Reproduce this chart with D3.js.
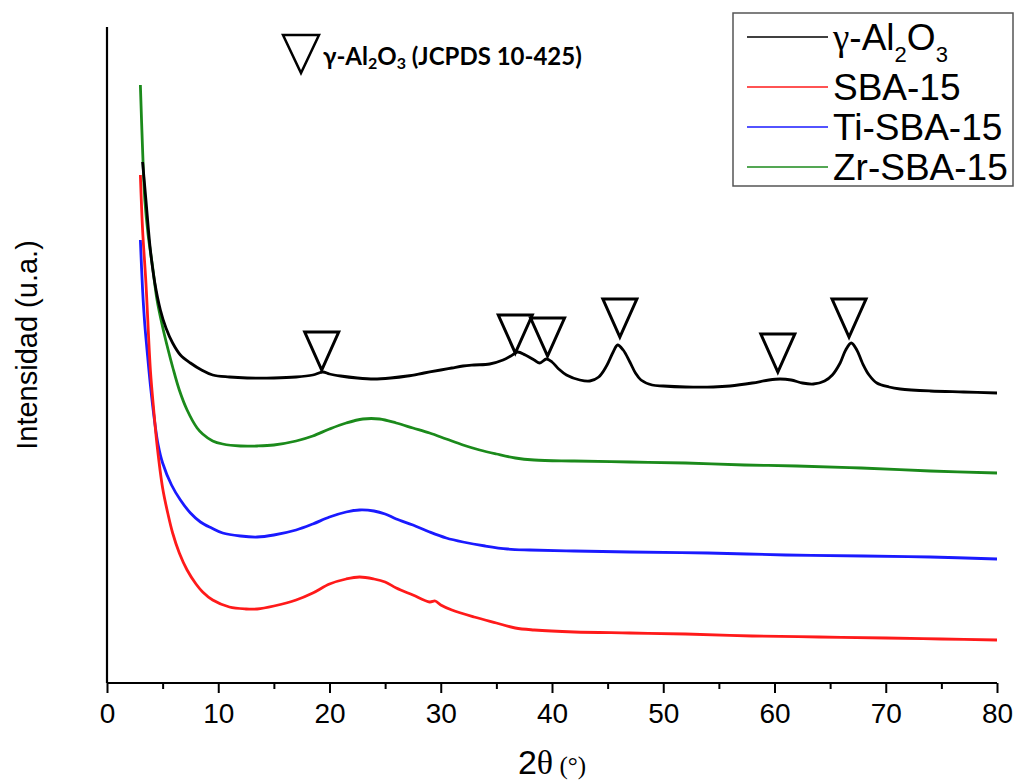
<!DOCTYPE html>
<html>
<head>
<meta charset="utf-8">
<script src="https://cdn.jsdelivr.net/npm/d3@7"></script>
<style>
  body { margin: 0; background: #fff; }
  .tick text { font-family: "Liberation Sans", Arial, sans-serif; }
</style>
</head>
<body>
<div id="chart"></div>
<script>
// XRD patterns, intensity in arbitrary units
const aluminaTheta = [3.2, 3.5, 3.9, 4.3, 4.8, 5.3, 5.9, 6.6, 7.5, 8.5, 9.5, 11, 12.6, 15, 17, 18.5, 19.4, 20, 21, 22.5, 24, 25.5, 27, 28.5, 30, 31, 32, 33, 34.4, 35.6, 36.3, 36.9, 37.6, 38.4, 38.9, 39.5, 40, 40.6, 41.3, 42.5, 43.4, 44.2, 44.9, 45.5, 45.9, 46.4, 47, 47.5, 48, 49, 50, 52, 54.5, 56, 58, 59.5, 60.5, 61.5, 62.5, 63.5, 64.5, 65.2, 65.9, 66.4, 66.9, 67.4, 67.9, 68.5, 69.2, 70.3, 71.3, 74, 77, 80];
const aluminaInt = [521, 483, 433, 400, 373, 355, 340, 328, 320, 313, 308, 306, 305, 305, 306, 308, 311, 309, 307, 305, 304, 305, 307, 310, 313, 315, 317, 318, 319, 323, 327, 331, 328, 323, 320, 324, 321, 314, 308, 303, 302, 306, 317, 331, 338, 333, 321, 310, 303, 298, 297, 296, 296, 297, 300, 303, 304, 303, 300, 299, 302, 308, 320, 333, 340, 333, 320, 308, 300, 296, 294, 292, 291, 290];

const zrTheta = [3.0, 3.2, 3.4, 3.7, 4.1, 4.5, 5.0, 5.5, 5.9, 6.5, 7.2, 8.1, 8.6, 9.5, 10.4, 12, 13.5, 15, 17, 18.5, 20, 21.5, 23, 24.5, 26, 27.5, 29, 30.5, 32, 33.5, 35, 36.7, 38.4, 42, 47, 52, 57.3, 62, 67.8, 74, 80];
const zrInt = [598, 533, 483, 448, 416, 383, 356, 333, 316, 293, 273, 255, 249, 242, 239, 237, 237, 238, 242, 247, 254, 260, 264, 264, 260, 255, 250, 244, 238, 233, 229, 225, 223, 222, 221, 220, 218, 217, 215, 212, 210];

const tiTheta = [3.0, 3.2, 3.4, 3.6, 3.9, 4.3, 4.6, 5.0, 5.8, 6.6, 7.5, 8.4, 9.4, 10.4, 12, 13.5, 15, 17, 18.5, 20, 21.5, 22.7, 24, 25, 26, 27.5, 29, 30.5, 32, 34, 36, 38, 42, 47, 54, 61, 68, 74, 80];
const tiInt = [443, 393, 358, 333, 298, 260, 238, 220, 198, 183, 170, 161, 155, 150, 147, 146, 148, 153, 159, 166, 171, 173, 172, 169, 164, 158, 151, 145, 141, 137, 134, 133, 132, 131, 130, 128, 127, 126, 124];

const sbaTheta = [3.0, 3.2, 3.5, 3.9, 4.2, 4.5, 5.0, 5.5, 5.9, 6.5, 7.2, 8.0, 8.6, 9.5, 11, 12.5, 13.5, 15, 17, 18.5, 20, 21.5, 22.7, 24, 25, 26, 27.5, 29, 29.5, 30, 31, 33, 35, 36.7, 38.4, 42, 47, 52, 58, 64, 70, 75, 80];
const sbaInt = [508, 453, 400, 313, 273, 238, 195, 168, 150, 130, 113, 99, 91, 83, 76, 74, 74, 77, 83, 90, 99, 104, 106, 104, 101, 95, 88, 81, 82, 78, 73, 66, 60, 55, 53, 51, 50, 49, 47, 46, 45, 44, 43];

// gamma-Al2O3 reflections (JCPDS 10-425): position and marker tip height
const peakTheta = [19.3, 36.7, 39.6, 46.1, 60.3, 66.7];
const peakTip = [313, 330, 327, 346, 311, 346];

const seriesNames = ["γ-Al2O3", "SBA-15", "Ti-SBA-15", "Zr-SBA-15"];
const seriesColors = ["#000000", "#ff1a1a", "#1a1aff", "#1b8a1b"];

const xTicks = [0, 10, 20, 30, 40, 50, 60, 70, 80];
const xMinorTicks = [5, 15, 25, 35, 45, 55, 65, 75];

class XrdChart {
  constructor(_config) {
    this.config = {
      parentElement: _config.parentElement,
      containerWidth: 1015,
      containerHeight: 784,
      margin: { top: 27, right: 18, bottom: 101, left: 107 },
      triW: 34,
      triH: 38,
    };
    this.initVis();
  }

  initVis() {
    let vis = this;
    const m = vis.config.margin;
    vis.width = vis.config.containerWidth - m.left - m.right;
    vis.height = vis.config.containerHeight - m.top - m.bottom;

    vis.svg = d3.select(vis.config.parentElement).append("svg")
      .attr("width", vis.config.containerWidth)
      .attr("height", vis.config.containerHeight);

    vis.chart = vis.svg.append("g")
      .attr("transform", `translate(${m.left},${m.top})`);

    vis.xScale = d3.scaleLinear().domain([0, 80]).range([0, 890]);
    vis.yScale = d3.scaleLinear().domain([0, 656]).range([vis.height, 0]);

    vis.line = d3.line()
      .x(d => vis.xScale(d[0]))
      .y(d => vis.yScale(d[1]))
      .curve(d3.curveCatmullRom.alpha(0.5));

    vis.renderVis();
  }

  renderVis() {
    let vis = this;
    const c = vis.config;

    const series = [
      { name: seriesNames[0], color: seriesColors[0], pts: d3.zip(aluminaTheta, aluminaInt) },
      { name: seriesNames[1], color: seriesColors[1], pts: d3.zip(sbaTheta, sbaInt) },
      { name: seriesNames[2], color: seriesColors[2], pts: d3.zip(tiTheta, tiInt) },
      { name: seriesNames[3], color: seriesColors[3], pts: d3.zip(zrTheta, zrInt) },
    ];

    // draw curves, black on top
    vis.chart.selectAll(".curve")
      .data(series.slice().reverse())
      .join("path")
      .attr("class", "curve")
      .attr("fill", "none")
      .attr("stroke", d => d.color)
      .attr("stroke-width", 2.8)
      .attr("stroke-linejoin", "round")
      .attr("d", d => vis.line(d.pts));

    // reflection markers
    const tri = (x, yTip) =>
      `M${x - c.triW / 2},${yTip - c.triH} L${x + c.triW / 2},${yTip - c.triH} L${x},${yTip} Z`;
    vis.chart.selectAll(".peak")
      .data(d3.zip(peakTheta, peakTip))
      .join("path")
      .attr("class", "peak")
      .attr("fill", "none")
      .attr("stroke", "#000")
      .attr("stroke-width", 3)
      .attr("stroke-linejoin", "miter")
      .attr("d", d => tri(vis.xScale(d[0]), vis.yScale(d[1])));

    // axes
    const xAxis = d3.axisBottom(vis.xScale).tickValues(xTicks).tickSize(10).tickPadding(10);
    const gx = vis.chart.append("g")
      .attr("transform", `translate(0,${vis.height})`)
      .call(xAxis);
    gx.select(".domain").attr("stroke-width", 2.2).attr("d", `M0,0H890`);
    gx.selectAll(".tick line").attr("stroke-width", 2);
    gx.selectAll(".tick text").attr("font-size", 28).attr("fill", "#000");

    const gxm = vis.chart.append("g")
      .attr("transform", `translate(0,${vis.height})`)
      .call(d3.axisBottom(vis.xScale).tickValues(xMinorTicks).tickSize(6).tickFormat(""));
    gxm.select(".domain").remove();
    gxm.selectAll(".tick line").attr("stroke-width", 2);

    vis.chart.append("line")
      .attr("x1", 0).attr("x2", 0)
      .attr("y1", 0).attr("y2", vis.height)
      .attr("stroke", "#000").attr("stroke-width", 2.2);

    // axis titles
    const xt = vis.chart.append("text")
      .attr("x", 445).attr("y", vis.height + 91)
      .attr("text-anchor", "middle")
      .attr("font-family", "Liberation Sans, Arial, sans-serif");
    xt.append("tspan").attr("font-size", 34).text("2");
    xt.append("tspan").attr("font-size", 34).attr("font-family", "Liberation Serif, serif").text("θ");
    xt.append("tspan").attr("font-size", 25).attr("font-family", "Liberation Serif, serif").text(" (°)");

    vis.svg.append("text")
      .attr("transform", "translate(37,345) rotate(-90)")
      .attr("text-anchor", "middle")
      .attr("font-family", "Liberation Sans, Arial, sans-serif")
      .attr("font-size", 29)
      .text("Intensidad (u.a.)");

    // top annotation
    const ann = vis.svg.append("g").attr("transform", "translate(301,73)");
    ann.append("path")
      .attr("d", `M-18,-38 L18,-38 L0,0 Z`)
      .attr("fill", "none").attr("stroke", "#000").attr("stroke-width", 2.5);
    const at = ann.append("text")
      .attr("x", 22).attr("y", -8)
      .attr("font-family", "Lato, 'Open Sans', sans-serif")
      .attr("font-weight", "bold")
      .attr("font-size", 24);
    at.append("tspan").text("γ-Al");
    at.append("tspan").attr("font-size", 16).attr("dy", 4).text("2");
    at.append("tspan").attr("dy", -4).text("O");
    at.append("tspan").attr("font-size", 16).attr("dy", 4).text("3");
    at.append("tspan").attr("dy", -4).text(" (JCPDS 10-425)");

    // legend
    const lg = vis.svg.append("g").attr("class", "legend");
    lg.append("rect")
      .attr("x", 733).attr("y", 13).attr("width", 280).attr("height", 173)
      .attr("fill", "#fff").attr("stroke", "#555").attr("stroke-width", 1.5);
    const rowY = [37, 87, 127, 167];
    const rows = lg.selectAll(".row").data(series).join("g")
      .attr("transform", (d, i) => `translate(747,${rowY[i]})`);
    rows.append("line")
      .attr("x1", 0).attr("x2", 81)
      .attr("stroke", d => d.color).attr("stroke-width", 1.6);
    rows.each(function (d, i) {
      const t = d3.select(this).append("text")
        .attr("x", 86).attr("y", 13)
        .attr("font-family", "Liberation Sans, Arial, sans-serif")
        .attr("font-size", 37);
      if (i === 0) {
        t.append("tspan").attr("font-family", "Liberation Serif, serif").text("γ");
        t.append("tspan").text("-Al");
        t.append("tspan").attr("font-size", 22).attr("dy", 12).text("2");
        t.append("tspan").attr("dy", -12).text("O");
        t.append("tspan").attr("font-size", 22).attr("dy", 12).text("3");
      } else {
        t.text(d.name);
      }
    });
  }
}

new XrdChart({ parentElement: "#chart" });
</script>
</body>
</html>
